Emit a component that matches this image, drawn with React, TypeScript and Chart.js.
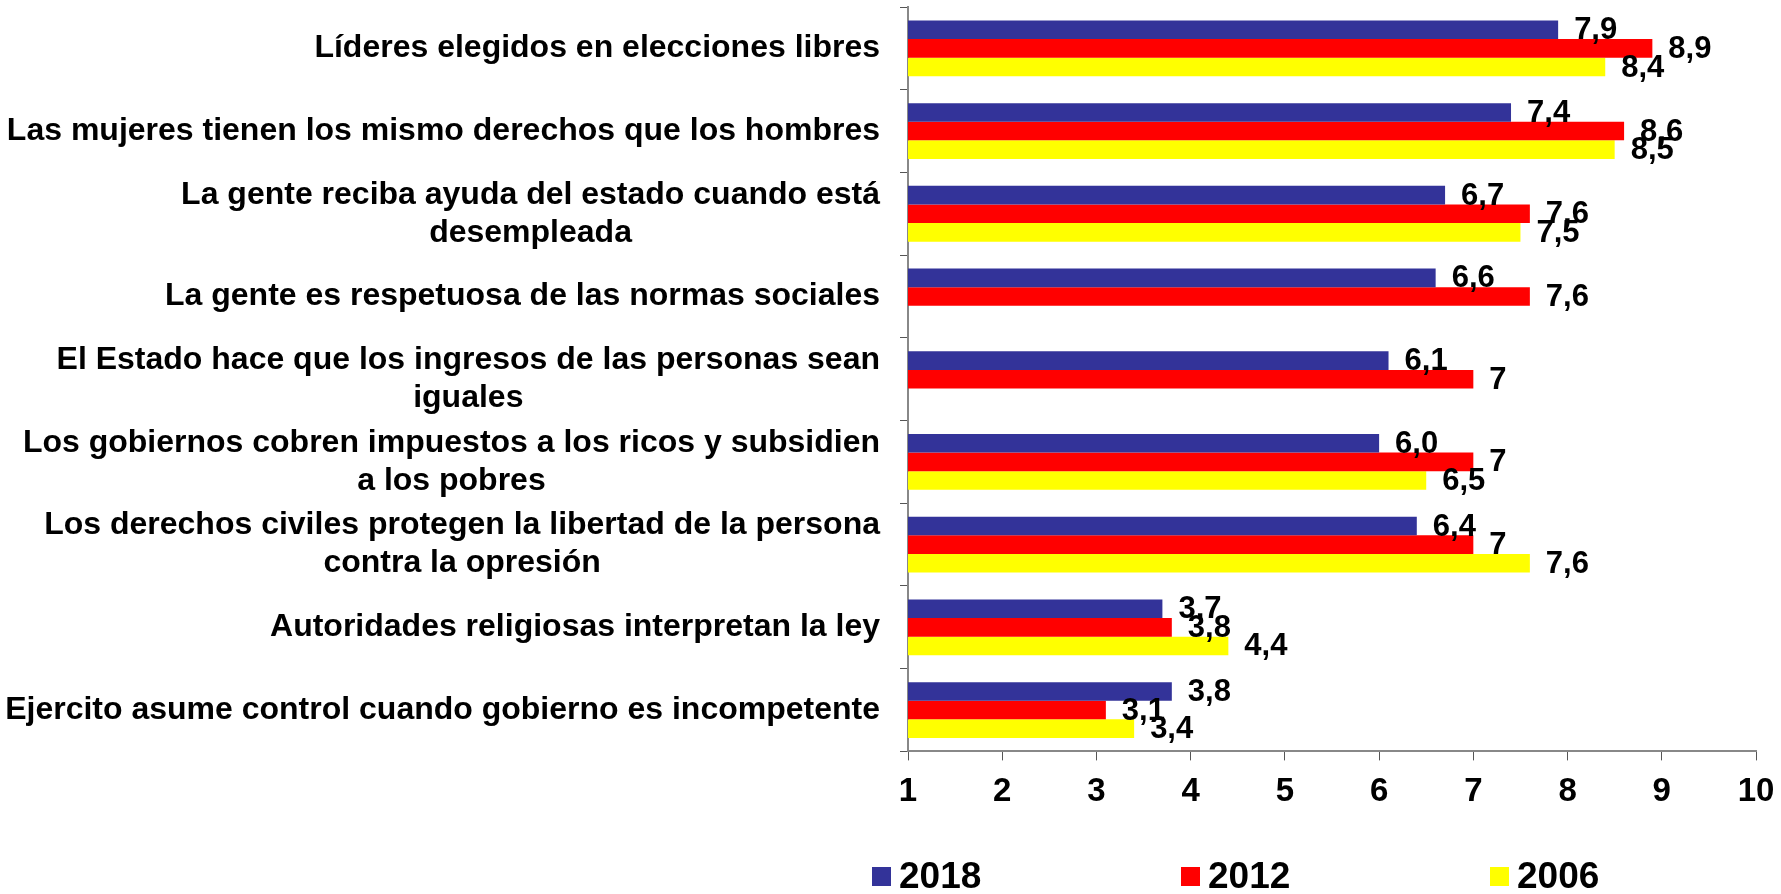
import React, { useEffect, useRef } from "react";
import { Chart, registerables } from "chart.js";

Chart.register(...registerables);

const categories: string[][] = [
  ["Líderes elegidos en elecciones libres"],
  ["Las mujeres tienen los mismo derechos que los hombres"],
  ["La gente reciba ayuda del estado cuando está", "desempleada"],
  ["La gente es respetuosa de las normas sociales"],
  ["El Estado hace que los ingresos de las personas sean", "iguales"],
  ["Los gobiernos cobren impuestos a los ricos y subsidien", "a los pobres"],
  ["Los derechos civiles protegen la libertad de la persona", "contra la opresión"],
  ["Autoridades religiosas interpretan la ley"],
  ["Ejercito asume control cuando gobierno es incompetente"],
];

const values2018: (number | null)[] = [7.9, 7.4, 6.7, 6.6, 6.1, 6.0, 6.4, 3.7, 3.8];
const values2012: (number | null)[] = [8.9, 8.6, 7.6, 7.6, 7, 7, 7, 3.8, 3.1];
const values2006: (number | null)[] = [8.4, 8.5, 7.5, null, null, 6.5, 7.6, 4.4, 3.4];

const seriesNames = ["2018", "2012", "2006"];
const seriesColors = ["#333399", "#FF0000", "#FFFF00"];
const xTicks = [1, 2, 3, 4, 5, 6, 7, 8, 9, 10];

const FONT = "'Liberation Sans', Arial, sans-serif";

function fmt(v: number, seriesIndex: number): string {
  const s = seriesIndex === 0 ? v.toFixed(1) : String(v);
  return s.replace(".", ",");
}

const yLabelsPlugin = {
  id: "yLabels",
  afterDraw(chart: any) {
    const { ctx } = chart;
    const yScale = chart.scales.y;
    const xRight = chart.chartArea.left - 28;
    ctx.save();
    ctx.font = `bold 32px ${FONT}`;
    ctx.fillStyle = "#000";
    ctx.textBaseline = "middle";
    const lh = 38;
    categories.forEach((lines, i) => {
      const yc = yScale.getPixelForValue(i);
      const n = lines.length;
      const w0 = ctx.measureText(lines[0]).width;
      lines.forEach((line, j) => {
        const y = yc + (j - (n - 1) / 2) * lh;
        if (j === 0) {
          ctx.textAlign = "right";
          ctx.fillText(line, xRight, y);
        } else {
          ctx.textAlign = "center";
          ctx.fillText(line, xRight - w0 / 2, y);
        }
      });
    });
    ctx.restore();
  },
};

const dataLabelsPlugin = {
  id: "barValueLabels",
  afterDatasetsDraw(chart: any) {
    const { ctx } = chart;
    ctx.save();
    ctx.font = `bold 31px ${FONT}`;
    ctx.fillStyle = "#000";
    ctx.textAlign = "left";
    ctx.textBaseline = "middle";
    chart.data.datasets.forEach((ds: any, di: number) => {
      const meta = chart.getDatasetMeta(di);
      meta.data.forEach((bar: any, i: number) => {
        const v = ds.data[i];
        if (v === null || v === undefined) return;
        ctx.fillText(fmt(v, di), bar.x + 16, bar.y + 1);
      });
    });
    ctx.restore();
  },
};

const legendPlugin = {
  id: "customLegend",
  afterDraw(chart: any) {
    const { ctx } = chart;
    ctx.save();
    ctx.font = `bold 37px ${FONT}`;
    ctx.textAlign = "left";
    ctx.textBaseline = "middle";
    const x0 = 872;
    const dx = 309;
    const yc = 877;
    seriesNames.forEach((name, i) => {
      const x = x0 + i * dx;
      ctx.fillStyle = seriesColors[i];
      ctx.fillRect(x, yc - 10, 19, 19);
      ctx.fillStyle = "#000";
      ctx.fillText(name, x + 27, yc + 1);
    });
    ctx.restore();
  },
};

export default function App() {
  const canvasRef = useRef<HTMLCanvasElement | null>(null);

  useEffect(() => {
    if (!canvasRef.current) return;
    const chart = new Chart(canvasRef.current, {
      type: "bar",
      data: {
        labels: categories.map((c) => c.join(" ")),
        datasets: [
          { label: seriesNames[0], data: values2018, backgroundColor: seriesColors[0] },
          { label: seriesNames[1], data: values2012, backgroundColor: seriesColors[1] },
          { label: seriesNames[2], data: values2006, backgroundColor: seriesColors[2] },
        ],
      },
      options: {
        indexAxis: "y",
        animation: false,
        responsive: false,
        maintainAspectRatio: false,
        datasets: {
          bar: { barPercentage: 1, categoryPercentage: 0.675 },
        },
        layout: { padding: { left: 900, right: 25, top: 7, bottom: 70 } },
        plugins: {
          legend: { display: false },
          tooltip: { enabled: false },
          title: { display: false },
        },
        scales: {
          x: {
            type: "linear",
            min: 1,
            max: 10,
            afterBuildTicks: (scale: any) => {
              scale.ticks = xTicks.map((v) => ({ value: v }));
            },
            afterFit: (scale: any) => {
              scale.paddingRight = 0;
              scale.paddingLeft = 0;
            },
            ticks: {
              font: { family: FONT, size: 33, weight: "bold" },
              color: "#000",
              padding: 12,
              callback: (v: any) => String(v),
            },
            grid: {
              drawOnChartArea: false,
              drawTicks: true,
              tickLength: 9,
              color: "#555",
            },
            border: { display: true, color: "#888", width: 2 },
          },
          y: {
            type: "category",
            ticks: { display: false },
            grid: {
              offset: true,
              drawOnChartArea: false,
              drawTicks: true,
              tickLength: 8,
              color: "#555",
            },
            border: { display: true, color: "#888", width: 2 },
          },
        },
      },
      plugins: [yLabelsPlugin, dataLabelsPlugin, legendPlugin],
    });
    return () => chart.destroy();
  }, []);

  return (
    <div style={{ position: "fixed", left: 0, top: 0, width: 1781, height: 894, background: "#fff" }}>
      <canvas ref={canvasRef} width={1781} height={894} style={{ width: 1781, height: 894 }} />
    </div>
  );
}
